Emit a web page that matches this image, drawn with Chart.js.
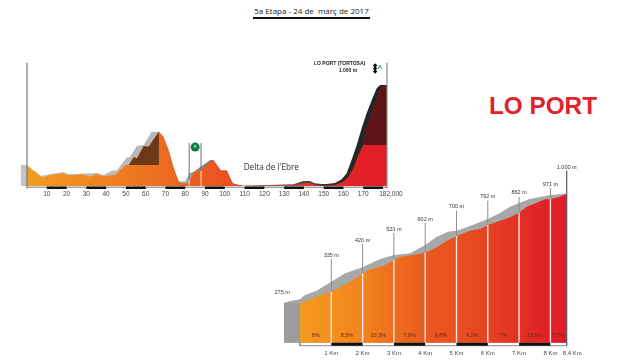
<!DOCTYPE html>
<html>
<head>
<meta charset="utf-8">
<script src="https://cdn.jsdelivr.net/npm/chart.js@4"></script>
<style>
  html, body { margin: 0; padding: 0; background: #fff; }
  body { position: relative; width: 630px; height: 362px; overflow: hidden; font-family: "Liberation Sans", sans-serif; }
  canvas { position: absolute; }
  #stage { left: 0; top: 50px; }
  #climb { left: 270px; top: 160px; }
  #title { position: absolute; left: 253px; top: 5px; width: 117px; height: 12px; border-bottom: 2px solid #111; font: 8px "Open Sans", sans-serif; color: #222; text-align: center; line-height: 12px; white-space: nowrap; }
  #port { position: absolute; left: 489px; top: 91px; font: bold 24.3px "Liberation Sans", sans-serif; color: #e3212b; white-space: nowrap; line-height: 29px; }
</style>
</head>
<body>
<div id="title">5a Etapa - 24 de&nbsp; març de 2017</div>
<div id="port">LO PORT</div>
<canvas id="stage" width="420" height="160" style="width:420px;height:160px"></canvas>
<canvas id="climb" width="340" height="202" style="width:340px;height:202px"></canvas>
<script>
// stage profile, km / metres
const stageKm = [0, 2.5, 4.2, 7.6, 11.8, 18.5, 20, 25, 27.5, 32, 34.6, 38.8, 44.6, 49.7, 51.4, 54, 55.6, 59, 61.5, 66.7, 69, 71.6, 74, 76.7, 78.4, 81.8, 84.3, 87.7, 92.7, 94.2, 98, 101, 104, 107, 109.4, 136, 139.7, 143, 146, 150, 155.7, 160, 162.5, 165, 167.5, 170, 171.7, 174.3, 176.8, 178.5, 180.1, 182];
const stageElev = [208, 158, 142, 86, 109, 125, 109, 109, 119, 92, 119, 99, 109, 208, 208, 284, 274, 396, 389, 538, 488, 356, 191, 43, 26, 26, 142, 152, 241, 257, 152, 152, 26, 10, 3, 8, 26, 33, 10, 3, 10, 43, 92, 175, 307, 406, 554, 720, 851, 950, 993, 1000];
const shadeKm = [-3.2, 0, 6.7, 11.8, 18.5, 21, 25, 32, 35.5, 38.8, 42.9, 45.4, 50.5, 52, 55.6, 59, 63, 66.7, 69, 71.6, 74, 76.7, 80, 82, 84.3, 87.7, 92.7, 94.2, 98, 101, 104, 107, 109.4, 134.7, 139.7, 143, 145.5, 149, 151.5, 155.7, 159.1, 161.6, 164.1, 166.7, 169.2, 171.7, 174.3, 176.8, 178.5, 182];
const shadeElev = [208, 208, 99, 119, 139, 119, 119, 125, 129, 109, 152, 152, 284, 284, 399, 406, 538, 538, 488, 356, 191, 43, 43, 125, 142, 191, 257, 257, 152, 152, 26, 10, 3, 16, 50, 50, 26, 20, 20, 30, 66, 126, 257, 406, 571, 720, 851, 967, 1000, 1000];
const brownKm = [51.4, 54, 55.6, 59, 61.5, 66.7];
const brownElev = [208, 284, 274, 396, 389, 538];
const maroonKm = [170, 171.7, 174.3, 176.8, 178.5, 180.1, 182];
const maroonElev = [406, 554, 720, 851, 950, 993, 1000];
const stageTicks = [10, 20, 30, 40, 50, 60, 70, 80, 90, 100, 110, 120, 130, 140, 150, 160, 170, 184];
const stageTickLabels = ["10", "20", "30", "40", "50", "60", "70", "80", "90", "100", "110", "120", "130", "140", "150", "160", "170", "182,000"];
const stageBars = [[10, 20], [30, 40], [50, 60], [70, 80], [90, 100], [110, 120], [130, 140], [150, 160], [170, 180]];
const sprintKm = [82, 88];
const sprintElev = [60, 150];
const flagElev = [1193, 1163, 1134];

// final climb
const climbKm = [0, 0.43, 0.64, 1, 1.28, 1.6, 2, 2.24, 2.66, 3, 3.2, 3.62, 4, 4.37, 4.74, 5, 5.43, 5.75, 6, 6.39, 6.71, 7, 7.24, 7.56, 7.83, 8, 8.25, 8.52];
const climbElev = [275, 308, 330, 352, 381, 418, 474, 501, 523, 562, 584, 596, 611, 647, 695, 722, 757, 768, 795, 823, 846, 876, 916, 942, 965, 967, 978, 1000];
const climbShadeKm = [-0.51, -0.32, 0, 0.16, 0.53, 1, 1.44, 2, 2.56, 3, 3.52, 4, 4.37, 4.74, 5, 5.43, 5.86, 6, 6.39, 6.71, 7, 7.33, 7.88, 8, 8.52];
const climbShadeElev = [277, 291, 303, 330, 359, 418, 474, 514, 569, 596, 607, 662, 717, 750, 757, 788, 823, 834, 874, 916, 940, 967, 989, 994, 1004];
const climbTicks = [1, 2, 3, 4, 5, 6, 7, 8, 8.7];
const climbTickLabels = ["1 Km", "2 Km", "3 Km", "4 Km", "5 Km", "6 Km", "7 Km", "8 Km", "8,4 Km"];
const climbBars = [[1, 2], [3, 4], [5, 6], [7, 8]];
const markKm = [1, 2, 3, 4, 5, 6, 7, 8];
const markElev = [352, 474, 562, 611, 722, 795, 876, 967];
const markTop = [569, 668, 741, 808, 889, 956, 982, 1040];
const markLabels = ["335 m", "420 m", "523 m", "602 m", "700 m", "792 m", "862 m", "971 m"];
const gradeKm = [0.5, 1.5, 2.5, 3.5, 4.5, 5.5, 6.5, 7.5, 8.26];
const gradeLabels = ["6%", "8,5%", "10,3%", "7,9%", "9,8%", "9,2%", "7%", "10,9%", "7,3%"];

const pairs = (xs, ys) => xs.map((x, i) => ({ x, y: ys[i] }));

// x gradient built from the chart's own scale
function xGradient(stops) {
  return ctx => {
    const { chart } = ctx;
    if (!chart.chartArea) return stops[0][1];
    const sc = chart.scales.x;
    const g = chart.ctx.createLinearGradient(sc.left, 0, sc.right, 0);
    stops.forEach(s => g.addColorStop((s[0] - sc.min) / (sc.max - sc.min), s[1]));
    return g;
  };
}

function area(data, color, floor) {
  return { data, backgroundColor: color, borderWidth: 0, pointRadius: 0, fill: { value: floor } };
}
function line(data, color, width) {
  return { data, borderColor: color, borderWidth: width, pointRadius: 0, fill: false, borderCapStyle: "butt" };
}
function barLine(bars, y) {
  const pts = [];
  bars.forEach(b => { pts.push({ x: b[0], y }, { x: b[1], y }, { x: b[1], y: null }); });
  return pts;
}
function stems(xs, lo, hi) {
  const pts = [];
  xs.forEach((x, i) => { pts.push({ x, y: lo[i] }, { x, y: hi[i] }, { x, y: null }); });
  return pts;
}

// texts placed through the scales
const textPlugin = {
  id: "texts",
  afterDatasetsDraw(chart, args, opts) {
    const c = chart.ctx;
    c.save();
    c.textBaseline = "middle";
    opts.items.forEach(t => {
      c.font = t.font;
      c.fillStyle = t.color;
      c.textAlign = t.align || "center";
      c.fillText(t.text, chart.scales.x.getPixelForValue(t.x), chart.scales.y.getPixelForValue(t.y));
    });
    c.restore();
  }
};

function buildChart(id, datasets, sc, texts) {
  datasets.forEach((d, i) => { d.order = datasets.length - i; d.tension = 0; d.spanGaps = false; d.clip = false; });
  return new Chart(document.getElementById(id), {
    type: "line",
    data: { datasets },
    plugins: [textPlugin],
    options: {
      responsive: false,
      animation: false,
      events: [],
      layout: { padding: sc.padding },
      plugins: { legend: { display: false }, tooltip: { enabled: false }, texts: { items: texts } },
      scales: {
        x: {
          type: "linear",
          min: sc.xMin,
          max: sc.xMax,
          grid: { display: false, drawTicks: false },
          border: { display: false },
          afterBuildTicks: s => { s.ticks = sc.ticks.map(value => ({ value })); },
          afterFit: s => { s.height = sc.axisHeight; s.paddingLeft = 0; s.paddingRight = 0; },
          ticks: {
            autoSkip: false,
            maxRotation: 0,
            padding: sc.tickPad,
            color: "#444",
            font: { family: "Liberation Sans", size: sc.tickSize },
            callback: v => sc.labels[sc.ticks.indexOf(v)]
          }
        },
        y: { display: false, min: sc.yMin, max: sc.yMax }
      }
    }
  });
}

const smallFont = '5.5px "Liberation Sans"';

buildChart("stage", [
  area(pairs(shadeKm, shadeElev), xGradient([[-4, "#c4c4c4"], [78, "#b4b4b4"], [90, "#808080"], [135, "#555"], [155, "#2a2a2a"], [186, "#222"]]), 0),
  area(pairs(stageKm, stageElev), xGradient([[0, "#f39c1f"], [50, "#ef7a22"], [100, "#e9521f"], [150, "#e3302a"], [170, "#e01f26"], [182, "#e01f26"]]), 0),
  area(pairs(brownKm, brownElev), "#6c3916", 208),
  area(pairs(maroonKm, maroonElev), "#5f1418", 406),
  line(stems(sprintKm, sprintElev, [426, 426]), "#6e6e6e", 1),
  line(stems(sprintKm, [0, 0], sprintElev), "#f5e6da", 1),
  line(pairs([0, 182], [-12, -12]), "#777", 1),
  line(barLine(stageBars, -18), "#111", 2.5),
  line(pairs([0, 0], [1220, -25]), "#777", 1.2),
  line(pairs([182, 182], [1220, -25]), "#8a8a8a", 1.2),
  { data: [{ x: 85, y: 385 }], pointRadius: 4.5, pointBackgroundColor: "#0d7a4c", pointBorderWidth: 0, showLine: false },
  { data: flagElev.map(y => ({ x: 176, y })), pointStyle: "rectRot", pointRadius: 2.2, pointBackgroundColor: "#111", pointBorderWidth: 0, showLine: false }
], {
  padding: { left: 19.09, right: 25.1, top: 9.75, bottom: 0 },
  xMin: -4, xMax: 186, yMin: -35, yMax: 1250,
  ticks: stageTicks, labels: stageTickLabels, axisHeight: 20.5, tickPad: 1, tickSize: 6.5
}, [
  { text: "Delta de l'Ebre", x: 123.5, y: 178, font: '8.2px "Open Sans"', color: "#333" },
  { text: "LO PORT (TORTOSA)", x: 171, y: 1208, font: 'bold 5px "Liberation Sans"', color: "#222", align: "right" },
  { text: "1.000 m", x: 166.9, y: 1142, font: 'bold 5px "Liberation Sans"', color: "#222", align: "right" },
  { text: "✕", x: 85, y: 385, font: 'bold 5px "DejaVu Sans"', color: "#fff" },
  { text: "A", x: 178.4, y: 1170, font: 'bold 6px "Liberation Sans"', color: "#17a05a" }
]);

buildChart("climb", [
  area(pairs(climbShadeKm, climbShadeElev), "#a8a8a8", 14),
  area(pairs([-0.51, 0], [277, 277]), "#9c9c9c", 14),
  area(pairs(climbKm, climbElev), xGradient([[0, "#f49a1f"], [2, "#f2841f"], [4, "#ea5a20"], [5.5, "#e84a20"], [8, "#e01f28"], [8.6, "#e01f28"]]), 14),
  line(stems(markKm, markElev, markTop), "#8d8d8d", 1),
  line(stems(markKm, markElev.map(() => 14), markElev), "#f0e6df", 1.4),
  line(pairs([0, 8.52], [-6, -6]), "#888", 1),
  line(barLine(climbBars, 4), "#111", 3),
  line(pairs([0, 0], [14, -6]), "#888", 1),
  line(pairs([8.52, 8.52], [1155, -6]), "#555", 1.2)
], {
  padding: { left: 4.96, right: 22.04, top: 6.9, bottom: 0 },
  xMin: -0.8, xMax: 9.2, yMin: -10, yMax: 1180,
  ticks: climbTicks, labels: climbTickLabels, axisHeight: 15.68, tickPad: 3, tickSize: 6
}, [
  ...markKm.map((x, i) => ({ text: markLabels[i], x, y: markTop[i] + 26, font: smallFont, color: "#333" })),
  { text: "1.000 m", x: 8.52, y: 1179, font: smallFont, color: "#333" },
  { text: "275 m", x: -0.57, y: 350, font: smallFont, color: "#333" },
  ...gradeKm.map((x, i) => ({ text: gradeLabels[i], x, y: 62, font: smallFont, color: "#6e2a10" }))
]);
</script>
</body>
</html>
